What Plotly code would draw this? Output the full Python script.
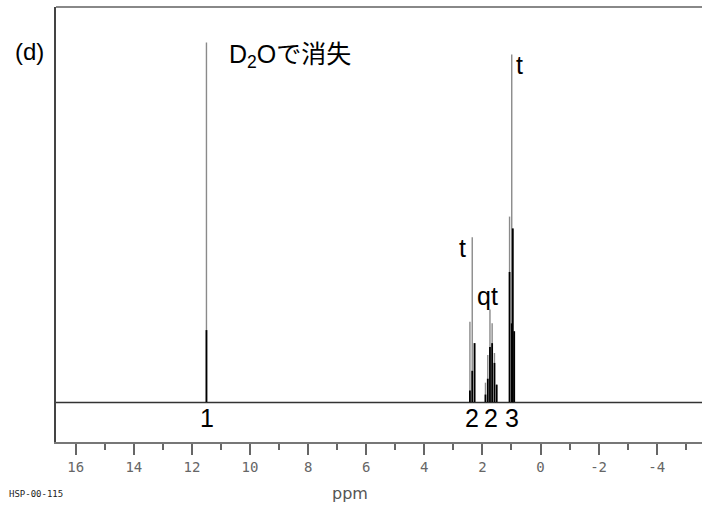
import plotly.graph_objects as go

# ---- data ----
peak_ppm = [11.50,
            2.43, 2.35, 2.27,
            1.895, 1.815, 1.74, 1.665, 1.585, 1.51,
            1.065, 0.99, 0.955, 0.905]
peak_height = [91,
               20.4, 41.8, 15,
               5, 12, 23.5, 20, 12.5, 4.5,
               47, 88, 44, 18]
peak_dark = [18.3,
             3, 8, 15,
             2, 6, 14, 15, 10, 4.5,
             33, 20, 44, 18]

x_range = [16.68, -5.56]
y_range = [-10, 100]
tick_vals = [16, 14, 12, 10, 8, 6, 4, 2, 0, -2, -4]
tick_text = ["16", "14", "12", "10", "8", "6", "4", "2", "0", "-2", "-4"]

integ_ppm = [11.48, 2.36, 1.70, 0.98]
integ_text = ["1", "2", "2", "3"]

mult_ppm = [0.74, 2.70, 1.81]
mult_y = [85.3, 39, 26.9]
mult_text = ["t", "t", "qt"]

# plot-area geometry (pixels) used to place free texts
L, R, T, B = 56, 702, 7, 442
def px(xp):
    return (xp - L) / (R - L)
def py(yp):
    return (B - yp) / (B - T)

# ---- build traces ----
def spikes(xs, hs):
    X, Y = [], []
    for p, h in zip(xs, hs):
        X += [p, p, None]
        Y += [0, h, None]
    return X, Y

fig = go.Figure()
fig.add_trace(go.Scatter(x=x_range, y=[0, 0], mode="lines",
                         line=dict(color="#333333", width=1.6),
                         hoverinfo="skip", showlegend=False))
gx, gy = spikes(peak_ppm, peak_height)
fig.add_trace(go.Scatter(x=gx, y=gy, mode="lines",
                         line=dict(color="#8a8a8a", width=1.4),
                         showlegend=False))
dx, dy = spikes(peak_ppm, peak_dark)
fig.add_trace(go.Scatter(x=dx, y=dy, mode="lines",
                         line=dict(color="#000000", width=1.8),
                         showlegend=False))

label_font = dict(family="Liberation Sans, Arial, Noto Sans CJK JP", size=25, color="#000")
ann = []
for p, t in zip(integ_ppm, integ_text):
    ann.append(dict(x=p, y=-3.9, xref="x", yref="y", text=t, showarrow=False,
                    font=label_font, xanchor="center", yanchor="middle"))
for p, yv, t in zip(mult_ppm, mult_y, mult_text):
    ann.append(dict(x=p, y=yv, xref="x", yref="y", text=t, showarrow=False,
                    font=label_font, xanchor="center", yanchor="middle"))

ann += [
    dict(x=px(29), y=py(52), xref="paper", yref="paper",
         yanchor="middle", xanchor="center", text="(d)", showarrow=False,
         font=dict(family="Liberation Sans, Arial", size=24, color="#000")),
    dict(x=px(227), y=py(56), xref="paper", yref="paper",
         xanchor="left", yanchor="middle",
         text="D<sub>2</sub>Oで消失", showarrow=False,
         font=dict(family="Liberation Sans, Noto Sans CJK JP", size=25, color="#000")),
    dict(x=px(350), y=py(493), xref="paper", yref="paper",
         xanchor="center", yanchor="middle", text="ppm", showarrow=False,
         font=dict(family="DejaVu Sans", size=16, color="#555")),
    dict(x=px(7), y=py(494), xref="paper", yref="paper",
         xanchor="left", yanchor="middle", text="HSP-00-115", showarrow=False,
         font=dict(family="DejaVu Sans Mono", size=9, color="#222")),
]

fig.update_layout(
    width=702, height=512,
    margin=dict(l=L, r=702 - R, t=T, b=512 - B, autoexpand=False),
    plot_bgcolor="white", paper_bgcolor="white",
    xaxis=dict(range=x_range, tickvals=tick_vals, ticktext=tick_text,
               ticks="outside", ticklen=11, tickwidth=1.5, tickcolor="#666",
               showline=True, linecolor="#777", linewidth=1.5,
               showgrid=False, zeroline=False,
               tickfont=dict(family="DejaVu Sans Mono", size=14, color="#666"),
               ticklabelstandoff=0,
               minor=dict(dtick=1, tick0=0, ticks="outside", ticklen=6,
                          tickwidth=1.5, tickcolor="#666", showgrid=False)),
    yaxis=dict(range=y_range, showticklabels=False, ticks="",
               showline=True, linecolor="#444", linewidth=1.5,
               showgrid=False, zeroline=False),
    annotations=ann,
    shapes=[dict(type="line", xref="paper", yref="paper", x0=0, x1=1, y0=1, y1=1,
                 line=dict(color="#888", width=2))],
)

fig.write_html("out.html", config={"displayModeBar": False},
               post_script="document.body.style.margin='0px';document.body.style.padding='0px';")
